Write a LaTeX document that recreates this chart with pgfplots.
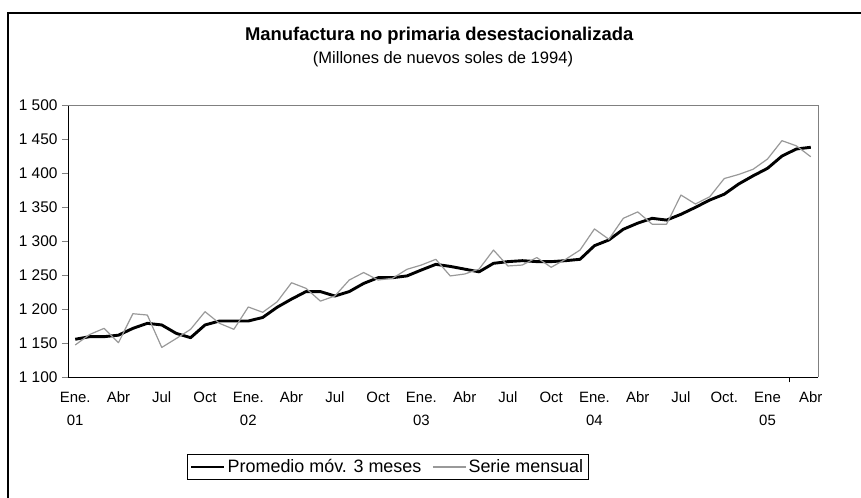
\documentclass[border=0pt]{standalone}
\usepackage{fontspec}
\setmainfont{Liberation Sans}
\usepackage{pgfplots}
\usepackage{pgfplotstable}
\pgfplotsset{compat=1.18}

\definecolor{serie}{RGB}{153,153,153}
\definecolor{marco}{RGB}{128,128,128}

% i = months since Jan 2001; promedio = 3-month moving average, mensual = monthly series
\pgfplotstableread{
i promedio mensual
0 1156.0 1147.6
1 1159.8 1163.0
2 1159.8 1172.0
3 1162.0 1151.0
4 1172.0 1193.5
5 1179.4 1191.6
6 1177.0 1144.0
7 1164.7 1157.0
8 1158.3 1170.6
9 1177.0 1196.5
10 1182.8 1179.4
11 1182.8 1170.6
12 1182.8 1203.4
13 1188.0 1195.6
14 1203.0 1211.0
15 1215.0 1239.0
16 1226.0 1230.8
17 1226.0 1212.0
18 1219.5 1219.5
19 1226.0 1243.0
20 1238.0 1254.0
21 1246.4 1243.0
22 1246.4 1245.5
23 1249.0 1258.7
24 1257.7 1265.0
25 1266.0 1273.4
26 1263.0 1249.0
27 1259.0 1251.8
28 1255.0 1259.0
29 1267.5 1287.0
30 1270.0 1263.6
31 1271.4 1265.0
32 1270.0 1276.0
33 1270.0 1261.7
34 1271.4 1273.4
35 1273.4 1287.0
36 1293.4 1318.0
37 1301.8 1302.8
38 1317.5 1333.6
39 1326.5 1343.0
40 1333.6 1325.0
41 1331.0 1325.0
42 1339.5 1367.8
43 1349.7 1354.6
44 1360.5 1365.4
45 1369.0 1392.0
46 1384.0 1398.0
47 1396.0 1405.6
48 1407.0 1420.7
49 1425.0 1447.6
50 1435.4 1440.0
51 1437.9 1424.0
}\datos

\begin{document}
\begin{tikzpicture}[x=1bp,y=1bp]
\useasboundingbox (-68,-120.6) rectangle (793,377.4);
\draw[line width=1.3bp] (-60,-140) -- (-60,364.4) -- (820,364.4);
\begin{axis}[
  scale only axis,
  width=750bp, height=272.4bp,
  xmin=-0.5, xmax=51.5,
  ymin=1100, ymax=1500,
  axis x line*=bottom,
  axis y line*=left,
  axis line style={line width=0.9bp},
  ytick={1100,1150,...,1500},
  yticklabels={1 100,1 150,1 200,1 250,1 300,1 350,1 400,1 450,1 500},
  ytick align=outside,
  major tick length=6bp,
  ytick style={line width=0.9bp},
  xtick={0,3,...,51},
  xticklabels={Ene.\\01,Abr,Jul,Oct,Ene.\\02,Abr,Jul,Oct,Ene.\\03,Abr,Jul,Oct,Ene.\\04,Abr,Jul,Oct.,Ene\\05,Abr},
  xtick style={draw=none},
  x tick label style={align=center, font=\fontsize{15}{23}\selectfont, yshift=-11bp},
  y tick label style={font=\fontsize{15.5}{18}\selectfont, xshift=-1bp},
  extra x ticks={49.5},
  extra x tick labels={},
  extra x tick style={xtick style={draw=black, line width=0.9bp}, tick align=outside, major tick length=5bp},
  title={\textbf{Manufactura no primaria desestacionalizada}},
  title style={at={(0.495,1)}, anchor=base, yshift=59bp, font=\fontsize{18.5}{22}\selectfont},
  legend columns=2,
  legend style={at={(0.426,-0.329)}, anchor=center, draw=black,
    font=\fontsize{18}{21}\selectfont, inner sep=3bp,
    /tikz/every even column/.append style={column sep=9bp}},
  legend image code/.code={\draw[#1] (0bp,0bp) -- (33bp,0bp);},
  clip=false,
]
\draw[marco, line width=0.9bp] (rel axis cs:0,1) -- (rel axis cs:1,1) -- (rel axis cs:1,0);
\node[anchor=base, font=\fontsize{16.6}{20}\selectfont] at (rel axis cs:0.5,1) [yshift=41.5bp] {(Millones de nuevos soles de 1994)};
\addplot[black, line width=2.9bp, line join=round] table[x=i, y=promedio] {\datos};
\addlegendentry{Promedio móv. 3 meses}
\addplot[serie, line width=1.2bp, line join=round] table[x=i, y=mensual] {\datos};
\addlegendentry{Serie mensual}
\end{axis}
\end{tikzpicture}
\end{document}
